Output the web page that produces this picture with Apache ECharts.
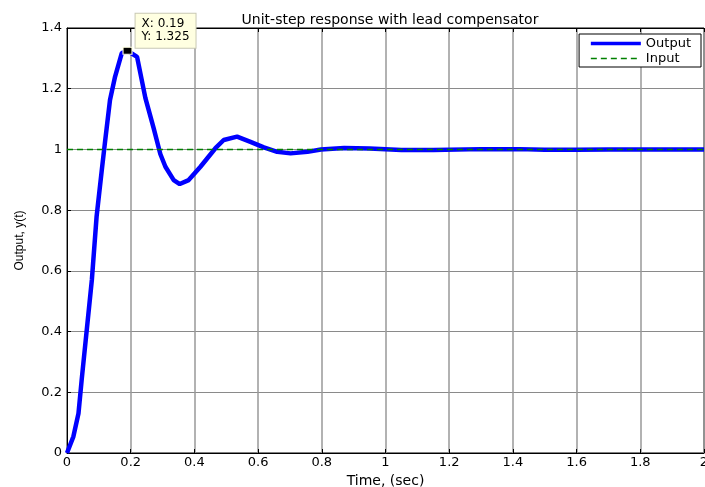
<!DOCTYPE html>
<html><head><meta charset="utf-8">
<script src="https://cdn.jsdelivr.net/npm/echarts@6/dist/echarts.min.js"></script>
<style>html,body{margin:0;padding:0;background:#fff}#c{width:705px;height:487px}</style>
</head><body><div id="c"></div>
<script>
var titleText = 'Unit-step response with lead compensator';
var xTicks = [0,0.2,0.4,0.6,0.8,1,1.2,1.4,1.6,1.8,2];
var yTicks = [0,0.2,0.4,0.6,0.8,1,1.2,1.4];
var time = [0,0.02,0.036,0.046,0.062,0.078,0.093,0.109,0.12,0.135,0.151,0.172,0.19,0.22,0.246,0.272,0.293,0.309,0.335,0.354,0.382,0.419,0.466,0.492,0.534,0.576,0.618,0.66,0.702,0.755,0.797,0.87,0.95,1.05,1.15,1.3,1.42,1.5,1.6,1.7,1.85,2.0];
var output = [0,0.054,0.13,0.24,0.405,0.57,0.78,0.93,1.03,1.163,1.24,1.317,1.325,1.305,1.17,1.07,0.985,0.943,0.899,0.886,0.899,0.943,1.004,1.031,1.042,1.025,1.007,0.992,0.987,0.992,1.0,1.005,1.003,0.998,0.998,1.001,1.001,0.999,0.999,1.0,1.0,1.0];
var inputTime = [0,2];
var inputVal = [1,1];
var tipX = 0.19, tipY = 1.325;

var outData = time.map(function(t,i){return [t, output[i]];});
var inData = inputTime.map(function(t,i){return [t, inputVal[i]];});
var font = 'DejaVu Sans, sans-serif';
var fmt = function(v){return String(+v.toFixed(1));};
var chart = echarts.init(document.getElementById('c'));
chart.setOption({
  animation:false,
  title:{text:titleText,left:385,top:8,textAlign:'center',textStyle:{fontSize:14,fontWeight:'normal',color:'#000',fontFamily:font}},
  grid:{left:67,right:1,top:28,bottom:34,show:true,borderColor:'#000',borderWidth:1,containLabel:false,outerBoundsMode:'none'},
  legend:{orient:'vertical',right:4,top:34,padding:[3,10,2,10],itemGap:2,itemWidth:50,itemHeight:14,
    backgroundColor:'#fff',borderColor:'#000',borderWidth:1,
    itemStyle:{opacity:0},
    textStyle:{fontSize:13,color:'#000',fontFamily:font},
    data:[{name:'Output',lineStyle:{width:3.5}},{name:'Input',lineStyle:{width:1.5}}]},
  xAxis:[{type:'value',min:0,max:2,interval:0.2,
    name:'Time, (sec)',nameLocation:'middle',nameGap:13,nameTextStyle:{fontSize:14,color:'#000',fontFamily:font},
    axisLine:{lineStyle:{color:'#000',width:1}},
    axisTick:{inside:true,length:4,lineStyle:{color:'#000'}},
    axisLabel:{fontSize:13,color:'#000',margin:3,fontFamily:font,formatter:fmt},
    splitLine:{show:true,lineStyle:{color:'#999',width:1.5}}},
   {type:'value',position:'top',min:0,max:2,interval:0.2,
    axisLine:{show:true,lineStyle:{color:'#000'}},axisTick:{inside:true,length:4,lineStyle:{color:'#000'}},
    axisLabel:{show:false},splitLine:{show:false}}],
  yAxis:[{type:'value',min:0,max:1.4,interval:0.2,
    name:'Output, y(t)',nameLocation:'middle',nameGap:41,nameRotate:90,nameTextStyle:{fontSize:12,color:'#000',fontFamily:'Liberation Sans, Arial, sans-serif'},
    axisLine:{show:true,lineStyle:{color:'#000',width:1}},
    axisTick:{show:true,inside:true,length:4,lineStyle:{color:'#000'}},
    axisLabel:{fontSize:13,color:'#000',margin:5,fontFamily:font,formatter:fmt},
    splitLine:{show:true,lineStyle:{color:'#8a8a8a',width:1}}}],
  series:[
    {name:'Output',type:'line',data:outData,symbol:'none',smooth:false,
     lineStyle:{color:'#0000ff',width:4.5},itemStyle:{color:'#0000ff'},z:3,
     markPoint:{symbol:'rect',symbolSize:[9,7],itemStyle:{color:'#000',borderColor:'#ffffe1',borderWidth:1,opacity:1},
       data:[{coord:[tipX,tipY],value:tipY}],
       label:{show:true,position:'right',distance:5,offset:[-2,-20],formatter:'X: '+tipX+'\nY: '+tipY,
         fontSize:12,color:'#000',fontFamily:font,lineHeight:13,align:'left',
         backgroundColor:'#ffffe1',borderColor:'#c8c8b4',borderWidth:1,padding:[4,6,4,6]}}},
    {name:'Input',type:'line',data:inData,symbol:'none',
     lineStyle:{color:'#008000',width:1.5,type:[6,4]},itemStyle:{color:'#008000'},z:4}
  ]
});
</script></body></html>
